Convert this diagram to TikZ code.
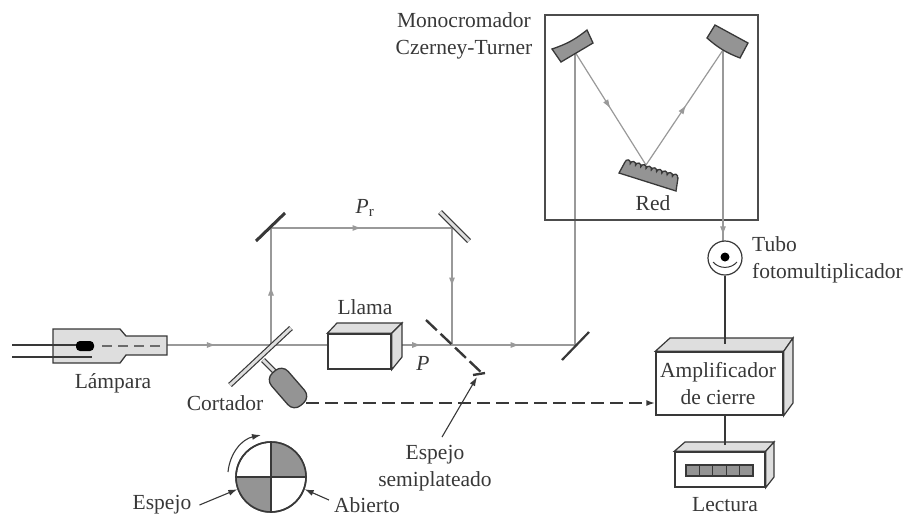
\documentclass[tikz,border=0pt]{standalone}
\usepackage{fontspec}
\setmainfont{Liberation Serif}
\usetikzlibrary{arrows.meta,decorations.markings,decorations.pathmorphing}
\definecolor{trazo}{gray}{0.22}
\definecolor{rayo}{gray}{0.6}
\definecolor{relleno}{gray}{0.58}
\definecolor{cara}{gray}{0.87}
\tikzset{
  texto/.style={inner sep=0pt,text=trazo,font=\fontsize{21.5}{27}\selectfont},
  haz/.style={draw=rayo,line width=1.2pt},
  punta/.style={postaction={decorate,decoration={markings,
    mark=at position #1 with {\arrow[rayo,line width=1pt]{Latex[length=9pt,width=6pt]}}}}},
  linea/.style={draw=trazo,line width=1.1pt},
  caja/.style={draw=trazo,line width=1.4pt,fill=white,inner sep=0pt},
  espejo/.style={draw=trazo,line width=3pt},
  espejodoble/.style={draw=trazo,line width=1.2pt,double=cara,double distance=3pt},
  solido/.style={draw=trazo,line width=1.3pt,fill=relleno},
  senal/.style={-{Latex[length=9pt,width=6pt]},draw=trazo,line width=1.1pt}
}
\begin{document}
\begin{tikzpicture}[x=1pt,y=-1pt]
\useasboundingbox (0,0) rectangle (920,517);
% puntos del haz
\coordinate (ini) at (167,345);
\coordinate (corte) at (271,345);
\coordinate (esp1) at (271,228);
\coordinate (esp2) at (452,228);
\coordinate (semi) at (452,345);
\coordinate (esp3) at (575,345);
\coordinate (mono1) at (575,52);
\coordinate (redp) at (646,165);
\coordinate (mono2) at (723,50);
% haces
\path[haz,punta=0.47] (ini) -- (corte);
\path[haz,punta=0.5] (corte) -- (esp1);
\path[haz,punta=0.5] (esp1) -- (esp2);
\path[haz,punta=0.5] (esp2) -- (semi);
\path[haz,punta=0.83] (corte) -- (semi);
\path[haz,punta=0.55] (semi) -- (esp3);
\path[haz] (esp3) -- (mono1);
\path[haz,punta=0.5] (mono1) -- (redp);
\path[haz,punta=0.52] (redp) -- (mono2);
% monocromador
\draw[draw=black!70,line width=2.2pt] (545,15) rectangle (758,220);
\path[haz,punta=0.97] (mono2) -- (723,241);
\path[solido] (552,49) to[bend right=10] (587,30) -- (593,43) -- (561,62) -- cycle;
\path[solido] (715,25) -- (748,43) -- (740,58) to[bend left=10] (707,38) -- cycle;
\path[solido] decorate[decoration={bumps,segment length=11pt,amplitude=3pt}]{(625,162) -- (678,178)} -- (676,191) -- (619,173) -- cycle;
\node[texto] (red) at (653,203) {Red};
\node[texto,align=center] (mono) at (464,36) {Monocromador\\Czerney-Turner};
% espejos
\draw[espejo] (256,241) -- (285,213);
\draw[espejodoble] (440,212) -- (469,241);
\draw[espejo,line width=2.2pt] (562,360) -- (589,332);
\draw[draw=trazo,line width=2.4pt,dash pattern=on 15pt off 5pt] (426,320) -- (484,375);
\draw[trazo,line width=2.4pt] (473,375) -- (485,373);
% lampara
\path[draw=trazo,line width=1.3pt,fill=cara] (53,329) -- (120,329) -- (126,336) -- (167,336) -- (167,355) -- (126,355) -- (120,363) -- (53,363) -- cycle;
\draw[linea,line width=1.5pt] (12,345) -- (80,345);
\draw[linea,line width=1.5pt] (12,357) -- (92,357);
\node[fill=black,minimum width=18pt,minimum height=10pt,inner sep=0pt,rounded corners=4pt] (arco) at (85,346) {};
\draw[draw=rayo!70!black,line width=1.8pt,dash pattern=on 10pt off 6pt] (arco.east) ++(8,0) -- (165,346);
\node[texto] (lamp) at (113,383) {Lámpara};
% cortador
\draw[espejodoble] (263,360) -- (276,373);
\node[solido,rotate=-49,minimum width=43pt,minimum height=22pt,rounded corners=9pt] (motor) at (288,388) {};
\draw[espejodoble] (230,385) -- (291,328);
\node[texto] (cort) at (225,403) {Cortador};
% llama
\node[caja,minimum width=63pt,minimum height=35pt] (llama) at (359.5,351.5) {};
\path[draw=trazo,line width=1.2pt,fill=cara] (llama.north west) -- (337,323) -- (402,323) -- (llama.north east) -- cycle;
\path[draw=trazo,line width=1.2pt,fill=cara] (llama.north east) -- (402,323) -- (402,357) -- (llama.south east) -- cycle;
\node[texto] (llamat) at (365,307) {Llama};
\node[texto,font=\fontsize{21.5}{27}\selectfont\itshape] (p) at (423,363) {P};
\node[texto] (pr) at (365,208) {\textit{P}\textsubscript{r}};
% disco
\node[circle,draw=trazo,line width=1.6pt,minimum size=70pt,inner sep=0pt] (disco) at (271,477) {};
\fill[relleno] (disco.center) -- (disco.north) arc[start angle=270,end angle=360,radius=35] -- cycle;
\fill[relleno] (disco.center) -- (disco.south) arc[start angle=90,end angle=180,radius=35] -- cycle;
\draw[linea,line width=1.4pt] (disco.north) -- (disco.south);
\draw[linea,line width=1.4pt] (disco.west) -- (disco.east);
\node[circle,draw=trazo,line width=1.6pt,minimum size=70pt,inner sep=0pt] at (disco) {};
\coordinate (giro1) at (228,472);
\coordinate (giro2) at (261,435);
\draw[senal] (giro1) to[bend left=36] (giro2);
\node[texto] (espj) at (162,505) {Espejo};
\node[texto] (abie) at (367,505) {Abierto};
\draw[senal] (espj.east) ++(8,0) -- (disco.200);
\draw[senal] (abie.west) ++(-5,-5) -- (disco.-20);
% semiplateado
\node[texto,align=center] (semit) at (435,468) {Espejo\\semiplateado};
\coordinate (semip) at (477,377);
\draw[senal] (442,437) -- (semip);
% tubo
\node[circle,draw=trazo,line width=1.2pt,fill=white,minimum size=34pt,inner sep=0pt] (tubo) at (725,258) {};
\fill[black] (725,257) circle (4.5);
\draw[trazo,line width=1pt] (713,262) to[bend right=50] (737,262);
\node[texto,align=left,anchor=west] (tubot) at (752,260) {Tubo\\fotomultiplicador};
% amplificador
\node[caja,minimum width=127pt,minimum height=63pt,align=center] (amp) at (719.5,383.5) {};
\path[draw=trazo,line width=1.2pt,fill=cara] (amp.north west) -- (670,338) -- (793,338) -- (amp.north east) -- cycle;
\path[draw=trazo,line width=1.2pt,fill=cara] (amp.north east) -- (793,338) -- (793,403) -- (amp.south east) -- cycle;
\node[texto,align=center] (ampt) at (718,384) {Amplificador\\de cierre};
\draw[linea,line width=1.5pt] (tubo.south) -- (725,344);
% lectura
\node[caja,minimum width=90pt,minimum height=35pt] (lect) at (720,469.5) {};
\path[draw=trazo,line width=1.2pt,fill=cara] (lect.north west) -- (685,442) -- (774,442) -- (lect.north east) -- cycle;
\path[draw=trazo,line width=1.2pt,fill=cara] (lect.north east) -- (774,442) -- (774,477) -- (lect.south east) -- cycle;
\draw[draw=trazo,line width=1.1pt,fill=relleno] (686,465) rectangle (753,476);
\foreach \i in {1,...,4}
  \draw[trazo,line width=0.8pt] (686+13.4*\i,465) -- (686+13.4*\i,476);
\draw[linea,line width=1.5pt] (725,415) -- (725,445);
\node[texto] (lectt) at (725,505) {Lectura};
% senal de referencia
\coordinate (motorp) at (306,403);
\coordinate (ampe) at (amp.west |- motorp);
\draw[senal,line width=1.8pt,dash pattern=on 13pt off 6pt] (motorp) -- (ampe);
\end{tikzpicture}
\end{document}
